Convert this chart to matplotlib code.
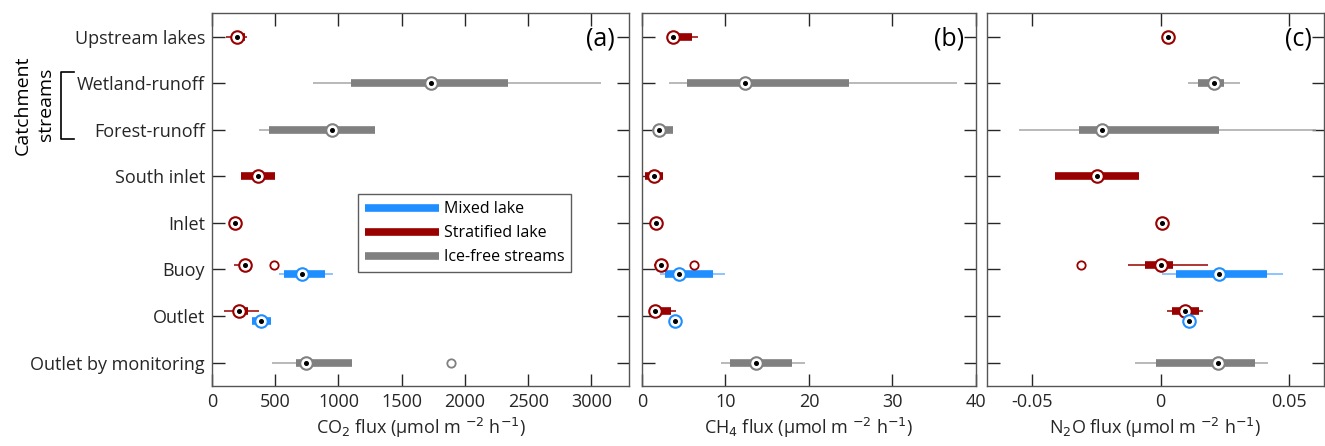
import numpy as np
import matplotlib.pyplot as plt

plt.rcParams['font.family'] = ['Open Sans', 'DejaVu Sans']

categories = ["Upstream lakes", "Wetland-runoff", "Forest-runoff", "South inlet",
              "Inlet", "Buoy", "Outlet", "Outlet by monitoring"]

# stats per category: [low whisker, q1, median, q3, high whisker], None = no data
co2_mixed = [None, None, None, None, None,
             [526, 571, 710, 897, 958], [313, 313, 390, 468, 468], None]
co2_strat = [[113, 161, 200, 258, 274], None, None, [232, 232, 361, 500, 500],
             [145, 165, 184, 205, 232], [171, 240, 261, 297, 297], [97, 177, 216, 284, 374], None]
co2_stream = [None, [800, 1097, 1732, 2339, 3074], [374, 452, 952, 1290, 1290],
              None, None, None, None, [471, 668, 742, 1106, 1106]]

ch4_mixed = [None, None, None, None, None,
             [2.2, 2.7, 4.41, 8.55, 9.94], [3.7, 3.8, 3.94, 4.1, 4.2], None]
ch4_strat = [[2.98, 3.2, 3.7, 5.96, 6.68], None, None, [0.4, 0.4, 1.47, 2.58, 2.58],
             [1.0, 1.3, 1.67, 2.0, 2.4], [1.4, 1.9, 2.3, 2.7, 3.0], [0.8, 1.0, 1.6, 3.5, 4.1], None]
ch4_stream = [None, [3.2, 5.4, 12.4, 24.85, 37.7], [1.2, 1.4, 2.0, 3.66, 3.66],
              None, None, None, None, [9.42, 10.5, 13.7, 18.0, 19.5]]

n2o_mixed = [None, None, None, None, None,
             [0.0006, 0.0062, 0.0228, 0.0414, 0.0477], [0.0105, 0.0108, 0.0112, 0.0116, 0.012], None]
n2o_strat = [[0.0025, 0.0028, 0.003, 0.0032, 0.0035], None, None, [-0.041, -0.041, -0.0249, -0.0083, -0.0083],
             [0.0, 0.0003, 0.0006, 0.0009, 0.0012], [-0.0126, -0.0062, 0.0, 0.0047, 0.0186],
             [0.0026, 0.0045, 0.0097, 0.0149, 0.0167], None]
n2o_stream = [None, [0.0106, 0.0147, 0.0208, 0.0247, 0.031], [-0.0551, -0.0319, -0.0226, 0.0227, 0.0606],
              None, None, None, None, [-0.0100, -0.0019, 0.0224, 0.0369, 0.0417]]

# outliers: (group, category index, value)
co2_outliers = [("strat", 5, 490), ("stream", 7, 1887)]
ch4_outliers = [("strat", 5, 6.24)]
n2o_outliers = [("strat", 5, -0.0309)]

colors = {"mixed": "#1f8fff", "strat": "#990000", "stream": "#808080"}
whisker_colors = {"mixed": "#6fb4ff", "strat": "#990000", "stream": "#a6a6a6"}
labels = {"mixed": "Mixed lake", "strat": "Stratified lake", "stream": "Ice-free streams"}


def draw_panel(ax, mixed, strat, stream, outliers):
    ypos = np.arange(1, len(categories) + 1)
    offsets = {}
    for i in range(len(categories)):
        both = mixed[i] is not None and strat[i] is not None
        offsets[("strat", i)] = -0.1 if both else 0.0
        offsets[("mixed", i)] = 0.1 if both else 0.0
        offsets[("stream", i)] = 0.0
    for grp, data in (("stream", stream), ("strat", strat), ("mixed", mixed)):
        for i, s in enumerate(data):
            if s is None:
                continue
            y = ypos[i] + offsets[(grp, i)]
            lo, q1, med, q3, hi = s
            ax.plot([lo, hi], [y, y], color=whisker_colors[grp], lw=1.1, zorder=2,
                    solid_capstyle='butt')
            ax.plot([q1, q3], [y, y], color=colors[grp], lw=5.5, zorder=3,
                    solid_capstyle='butt')
            ax.plot(med, y, 'o', ms=9, mfc='white', mec=colors[grp], mew=1.5, zorder=4)
            ax.plot(med, y, 'o', ms=2.6, color='black', zorder=5)
    for grp, i, v in outliers:
        y = ypos[i] + offsets[(grp, i)]
        ax.plot(v, y, 'o', ms=6, mfc='white', mec=colors[grp], mew=1.3, zorder=4)
    ax.set_ylim(8.5, 0.5)
    ax.set_yticks(ypos)
    ax.tick_params(direction='in', length=9, width=1, top=True, right=True,
                   labelsize=13, colors='#262626', pad=5)
    for sp in ax.spines.values():
        sp.set_color('#555555')
        sp.set_linewidth(1.0)


fig, axes = plt.subplots(1, 3, figsize=(13.25, 4.46), dpi=100)
ax_a, ax_b, ax_c = axes
ax_a.set_position([0.160, 0.135, 0.315, 0.835])
ax_b.set_position([0.4845, 0.135, 0.252, 0.835])
ax_c.set_position([0.745, 0.135, 0.254, 0.835])

draw_panel(ax_a, co2_mixed, co2_strat, co2_stream, co2_outliers)
draw_panel(ax_b, ch4_mixed, ch4_strat, ch4_stream, ch4_outliers)
draw_panel(ax_c, n2o_mixed, n2o_strat, n2o_stream, n2o_outliers)

ax_a.set_xlim(0, 3300)
ax_a.set_xticks([0, 500, 1000, 1500, 2000, 2500, 3000])
ax_a.set_yticklabels(categories)
ax_b.set_xlim(0, 40)
ax_b.set_xticks([0, 10, 20, 30, 40])
ax_b.set_yticklabels([])
ax_c.set_xlim(-0.0675, 0.0635)
ax_c.set_xticks([-0.05, 0, 0.05])
ax_c.set_xticklabels(["-0.05", "0", "0.05"])
ax_c.set_yticklabels([])

ax_a.set_xlabel(r"CO$_2$ flux (µmol m $^{-2}$ h$^{-1}$)", fontsize=13, color='#262626', labelpad=4)
ax_b.set_xlabel(r"CH$_4$ flux (µmol m $^{-2}$ h$^{-1}$)", fontsize=13, color='#262626', labelpad=4)
ax_c.set_xlabel(r"N$_2$O flux (µmol m $^{-2}$ h$^{-1}$)", fontsize=13, color='#262626', labelpad=4)

for ax, lab in zip(axes, ["(a)", "(b)", "(c)"]):
    ax.text(0.965, 0.965, lab, transform=ax.transAxes, ha='right', va='top', fontsize=18)

# legend
handles = [plt.Line2D([], [], color=colors[g], lw=5.5, solid_capstyle='butt')
           for g in ("mixed", "strat", "stream")]
leg = ax_a.legend(handles, [labels[g] for g in ("mixed", "strat", "stream")],
                  loc='upper left', bbox_to_anchor=(0.35, 0.515), fontsize=11.5,
                  handlelength=4.6, frameon=True, fancybox=False, borderpad=0.45,
                  labelspacing=0.5, handletextpad=0.3, borderaxespad=0)
leg.get_frame().set_edgecolor('#333333')
leg.get_frame().set_linewidth(1.0)

# catchment streams bracket and label
fig.text(0.017, 0.765, "Catchment", rotation=90, ha='center', va='center', fontsize=14)
fig.text(0.035, 0.765, "streams", rotation=90, ha='center', va='center', fontsize=14)
bx = [0.0555, 0.046, 0.046, 0.0555]
by = [1 - 72 / 446, 1 - 72 / 446, 1 - 139 / 446, 1 - 139 / 446]
fig.add_artist(plt.Line2D(bx, by, color='black', lw=1.2, transform=fig.transFigure))

fig.savefig("out.png", dpi=100)
